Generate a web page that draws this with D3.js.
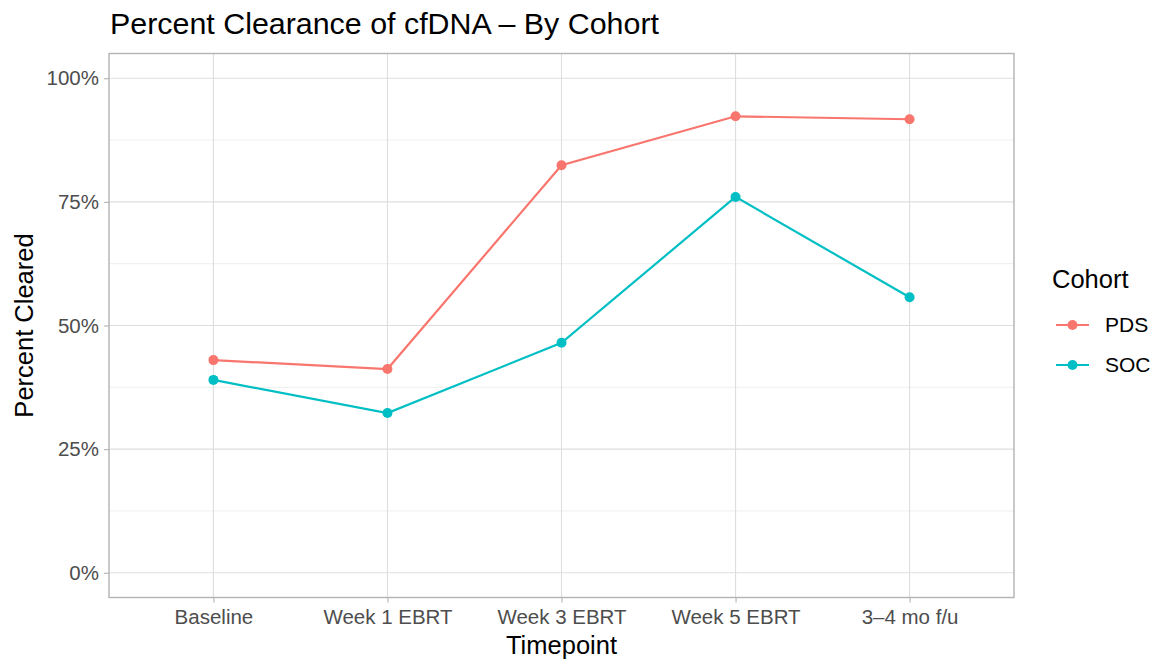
<!DOCTYPE html>
<html>
<head>
<meta charset="utf-8">
<script src="https://cdn.jsdelivr.net/npm/d3@7"></script>
<style>
  body { margin: 0; background: #fff; }
  svg { font-family: "Liberation Sans", Arial, Helvetica, sans-serif; }
</style>
</head>
<body>
<svg width="1161" height="664"></svg>
<script>
var timepoints = ["Baseline", "Week 1 EBRT", "Week 3 EBRT", "Week 5 EBRT", "3\u20134 mo f/u"];
var cohorts = ["PDS", "SOC"];
var pdsValues = [0.430, 0.412, 0.824, 0.923, 0.917];
var socValues = [0.390, 0.323, 0.465, 0.760, 0.557];
var yTicks = [0, 0.25, 0.5, 0.75, 1];
var colors = ["#F8766D", "#00BFC4"];

var series = [
  {name: cohorts[0], values: pdsValues, color: colors[0]},
  {name: cohorts[1], values: socValues, color: colors[1]}
];

var svg = d3.select("svg"),
    pLeft = 109, pRight = 1014, pTop = 53.5, pBottom = 597.5;

// discrete axis: positions 1..n with 0.6 expansion
var x = d3.scaleLinear()
    .domain([0.4, timepoints.length + 0.6])
    .range([pLeft, pRight]);

var y = d3.scaleLinear()
    .domain([-0.05, 1.05])
    .range([pBottom, pTop]);

// minor grid
var minor = [0.125, 0.375, 0.625, 0.875];
svg.append("g").selectAll("line")
    .data(minor)
  .enter().append("line")
    .attr("x1", pLeft).attr("x2", pRight)
    .attr("y1", function(d) { return y(d); })
    .attr("y2", function(d) { return y(d); })
    .attr("stroke", "#ebebeb")
    .attr("stroke-width", 0.8);

// major grid
svg.append("g").selectAll("line")
    .data(yTicks)
  .enter().append("line")
    .attr("x1", pLeft).attr("x2", pRight)
    .attr("y1", function(d) { return y(d); })
    .attr("y2", function(d) { return y(d); })
    .attr("stroke", "#dedede")
    .attr("stroke-width", 1.1);

svg.append("g").selectAll("line")
    .data(timepoints)
  .enter().append("line")
    .attr("x1", function(d, i) { return x(i + 1); })
    .attr("x2", function(d, i) { return x(i + 1); })
    .attr("y1", pTop).attr("y2", pBottom)
    .attr("stroke", "#dedede")
    .attr("stroke-width", 1.1);

// axes
var yAxis = d3.axisLeft(y)
    .tickValues(yTicks)
    .tickFormat(function(d) { return Math.round(d * 100) + "%"; })
    .tickSize(5)
    .tickPadding(5);

var gy = svg.append("g")
    .attr("transform", "translate(" + pLeft + ",0)")
    .call(yAxis);

var xAxis = d3.axisBottom(x)
    .tickValues(d3.range(1, timepoints.length + 1))
    .tickFormat(function(d) { return timepoints[d - 1]; })
    .tickSize(5)
    .tickPadding(4);

var gx = svg.append("g")
    .attr("transform", "translate(0," + pBottom + ")")
    .call(xAxis);

[gx, gy].forEach(function(g) {
  g.select(".domain").remove();
  g.selectAll(".tick line").attr("stroke", "#b3b3b3").attr("stroke-width", 1.1);
  g.selectAll(".tick text")
      .attr("fill", "#4d4d4d")
      .style("font-size", "20.5px")
      .style("font-family", "'Liberation Sans', Arial, sans-serif");
});
gx.selectAll(".tick text").attr("dy", "0.85em");

// panel border
svg.append("rect")
    .attr("x", pLeft).attr("y", pTop)
    .attr("width", pRight - pLeft).attr("height", pBottom - pTop)
    .attr("fill", "none")
    .attr("stroke", "#b3b3b3")
    .attr("stroke-width", 1.4);

// lines and points
var line = d3.line()
    .x(function(d, i) { return x(i + 1); })
    .y(function(d) { return y(d); });

series.forEach(function(s) {
  svg.append("path")
      .datum(s.values)
      .attr("fill", "none")
      .attr("stroke", s.color)
      .attr("stroke-width", 2.2)
      .attr("d", line);

  svg.append("g").selectAll("circle")
      .data(s.values)
    .enter().append("circle")
      .attr("cx", function(d, i) { return x(i + 1); })
      .attr("cy", function(d) { return y(d); })
      .attr("r", 5)
      .attr("fill", s.color);
});

// titles
svg.append("text")
    .attr("x", 110).attr("y", 34)
    .style("font-size", "30.4px")
    .attr("fill", "#000")
    .text("Percent Clearance of cfDNA \u2013 By Cohort");

svg.append("text")
    .attr("x", (pLeft + pRight) / 2).attr("y", 654)
    .attr("text-anchor", "middle")
    .style("font-size", "25.5px")
    .attr("fill", "#000")
    .text("Timepoint");

svg.append("text")
    .attr("transform", "translate(33," + ((pTop + pBottom) / 2) + ") rotate(-90)")
    .attr("text-anchor", "middle")
    .style("font-size", "25.5px")
    .attr("fill", "#000")
    .text("Percent Cleared");

// legend
var legend = svg.append("g");
legend.append("text")
    .attr("x", 1052).attr("y", 288)
    .style("font-size", "25.5px")
    .attr("fill", "#000")
    .text("Cohort");

var item = legend.selectAll(".item")
    .data(series)
  .enter().append("g")
    .attr("class", "item")
    .attr("transform", function(d, i) { return "translate(0," + (325 + i * 40) + ")"; });

item.append("line")
    .attr("x1", 1056).attr("x2", 1089)
    .attr("stroke", function(d) { return d.color; })
    .attr("stroke-width", 2.2);
item.append("circle")
    .attr("cx", 1072.5).attr("r", 5)
    .attr("fill", function(d) { return d.color; });
item.append("text")
    .attr("x", 1105).attr("dy", "0.35em")
    .style("font-size", "21px")
    .attr("fill", "#000")
    .text(function(d) { return d.name; });
</script>
</body>
</html>
